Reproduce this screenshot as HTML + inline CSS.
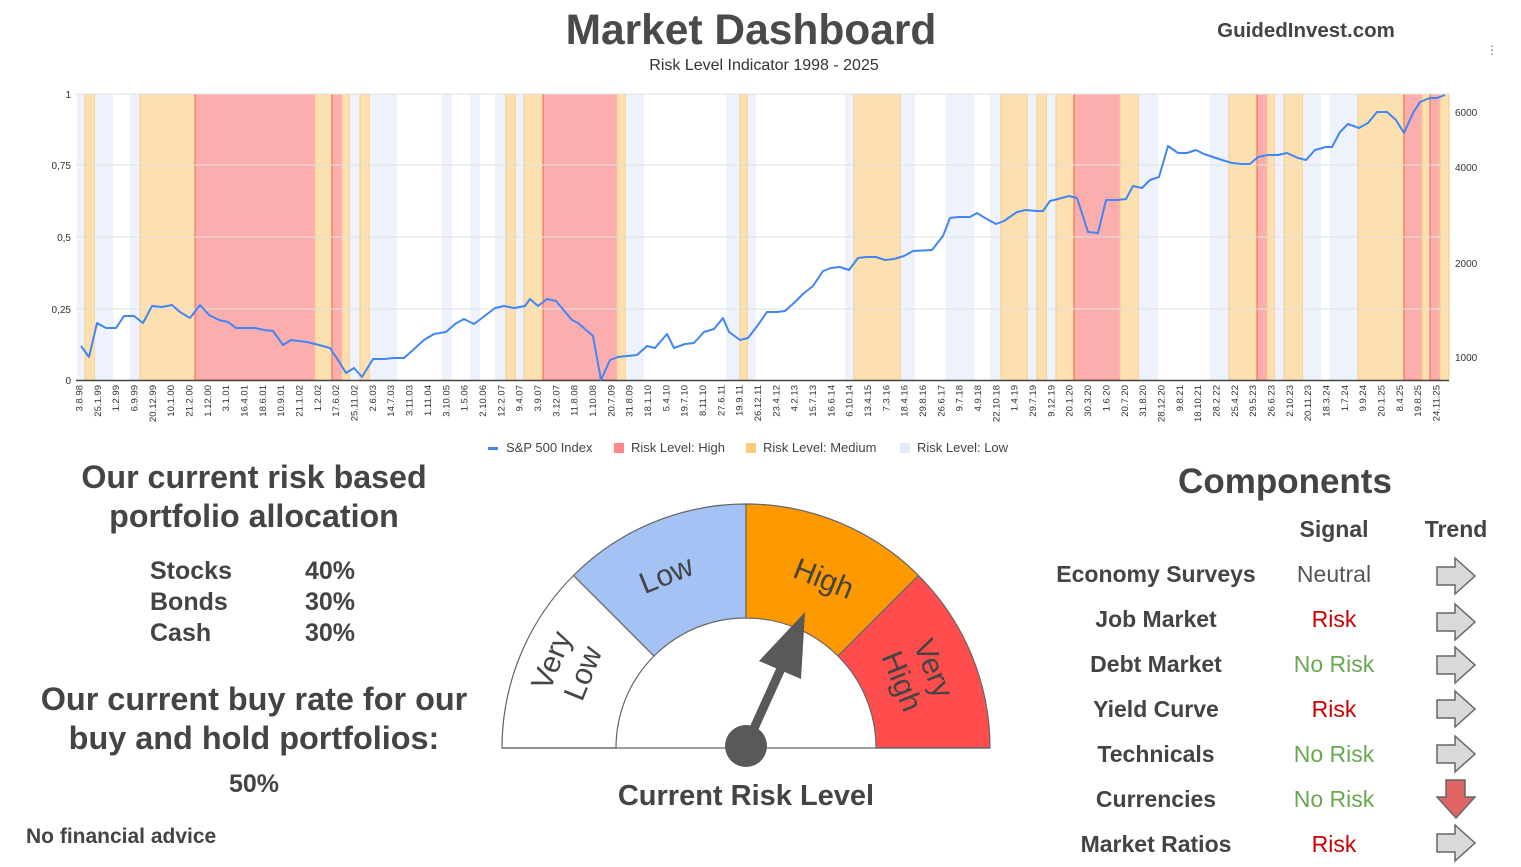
<!DOCTYPE html>
<html><head><meta charset="utf-8"><style>
html,body{margin:0;padding:0;background:#fff}
svg{display:block;font-family:"Liberation Sans",Arial,sans-serif}
</style></head><body>
<svg id="s" width="1521" height="867" viewBox="0 0 1521 867" xmlns="http://www.w3.org/2000/svg">
<g id="bands"></g>
<g stroke="#e0e0e0" stroke-width="1">
<line x1="76" x2="1449" y1="94" y2="94"/><line x1="76" x2="1449" y1="165" y2="165"/>
<line x1="76" x2="1449" y1="237" y2="237"/><line x1="76" x2="1449" y1="309" y2="309"/>
</g>
<line x1="76" x2="1449" y1="380.5" y2="380.5" stroke="#444" stroke-width="1.5"/>
<polyline id="line" fill="none" stroke="#4285f4" stroke-width="2" stroke-linejoin="round"/>
<g font-size="10" fill="#333" text-anchor="end">
<text x="71" y="98">1</text><text x="71" y="169">0,75</text><text x="71" y="241">0,5</text><text x="71" y="313">0,25</text><text x="71" y="384">0</text>
</g>
<g font-size="10" fill="#333">
<text x="1455" y="116">6000</text><text x="1455" y="171">4000</text><text x="1455" y="267">2000</text><text x="1455" y="361">1000</text>
</g>
<g id="ticks" font-size="9.5" fill="#333"></g>
<g font-size="13" fill="#444">
<rect x="488" y="447" width="10" height="3" fill="#4285f4"/><text x="506" y="452">S&amp;P 500 Index</text>
<rect x="614" y="443" width="10" height="10" fill="#f88"/><text x="631" y="452">Risk Level: High</text>
<rect x="746" y="443" width="10" height="10" fill="#fcc97a"/><text x="763" y="452">Risk Level: Medium</text>
<rect x="900" y="443" width="10" height="10" fill="#e3ebfb"/><text x="917" y="452">Risk Level: Low</text>
</g>
<text x="751" y="44" font-size="42.5" font-weight="bold" fill="#4a4a4a" text-anchor="middle">Market Dashboard</text>
<text x="764" y="70" font-size="16" fill="#333" text-anchor="middle">Risk Level Indicator 1998 - 2025</text>
<text x="1306" y="37" font-size="20.5" font-weight="bold" fill="#444" text-anchor="middle">GuidedInvest.com</text>
<text x="1486" y="54" font-size="12" fill="#666">⋮</text>

<g fill="#444" font-weight="bold" text-anchor="middle">
<text x="254" y="488" font-size="32.2">Our current risk based</text>
<text x="254" y="527" font-size="32.2">portfolio allocation</text>
<text x="254" y="710" font-size="32.4">Our current buy rate for our</text>
<text x="254" y="749" font-size="32.4">buy and hold portfolios:</text>
<text x="254" y="792" font-size="25">50%</text>
</g>
<g fill="#444" font-weight="bold" font-size="25">
<text x="150" y="579">Stocks</text><text x="305" y="579">40%</text>
<text x="150" y="610">Bonds</text><text x="305" y="610">30%</text>
<text x="150" y="641">Cash</text><text x="305" y="641">30%</text>
<text x="26" y="843" font-size="21">No financial advice</text>
</g>

<g stroke="#666" stroke-width="1.2">
<path d="M502,748 A244,244 0 0 1 573.5,575.5 L654,656 A130,130 0 0 0 616,748 Z" fill="#fff"/>
<path d="M573.5,575.5 A244,244 0 0 1 746,504 L746,618 A130,130 0 0 0 654,656 Z" fill="#a4c2f4"/>
<path d="M746,504 A244,244 0 0 1 918.5,575.5 L838,656 A130,130 0 0 0 746,618 Z" fill="#ff9900"/>
<path d="M918.5,575.5 A244,244 0 0 1 990,748 L876,748 A130,130 0 0 0 838,656 Z" fill="#ff4d4d"/>
<line x1="502" y1="748" x2="990" y2="748"/>
</g>
<g fill="#444" font-size="30" text-anchor="middle">
<text transform="translate(670,584) rotate(-22)">Low</text>
<text transform="translate(820,588) rotate(22)">High</text>
<text transform="translate(570,668) rotate(-68)"><tspan x="0" y="-10">Very</tspan><tspan x="0" y="24">Low</tspan></text>
<text transform="translate(915,676) rotate(68)"><tspan x="0" y="-10">Very</tspan><tspan x="0" y="24">High</tspan></text>
</g>
<g fill="#595959">
<line x1="746" y1="746" x2="784" y2="662" stroke="#595959" stroke-width="9"/>
<polygon points="805,612 801,679 759,661"/>
<circle cx="746" cy="746" r="21"/>
</g>
<text x="746" y="805" font-size="29" font-weight="bold" fill="#444" text-anchor="middle">Current Risk Level</text>

<g fill="#444" font-weight="bold" text-anchor="middle">
<text x="1285" y="493" font-size="35">Components</text>
<text x="1334" y="537" font-size="23">Signal</text>
<text x="1456" y="537" font-size="23">Trend</text>
<g font-size="23">
<text x="1156" y="582">Economy Surveys</text><text x="1156" y="627">Job Market</text>
<text x="1156" y="672">Debt Market</text><text x="1156" y="717">Yield Curve</text>
<text x="1156" y="762">Technicals</text><text x="1156" y="807">Currencies</text>
<text x="1156" y="852">Market Ratios</text>
</g>
</g>
<g font-size="23" text-anchor="middle">
<text x="1334" y="582" fill="#555">Neutral</text>
<text x="1334" y="627" fill="#cc0000">Risk</text>
<text x="1334" y="672" fill="#6aa84f">No Risk</text>
<text x="1334" y="717" fill="#cc0000">Risk</text>
<text x="1334" y="762" fill="#6aa84f">No Risk</text>
<text x="1334" y="807" fill="#6aa84f">No Risk</text>
<text x="1334" y="852" fill="#cc0000">Risk</text>
</g>
<g id="arrows" stroke="#666" stroke-width="1.5"></g>
</svg>
<script>
var NS="http://www.w3.org/2000/svg";
function el(p,t,a){var e=document.createElementNS(NS,t);for(var k in a)e.setAttribute(k,a[k]);p.appendChild(e);return e;}
var B=[["l",77,85],["m",85,95],["l",95,113],["l",130,140],["m",140,195],["h",195,315],["m",315,332],["h",332,342],["m",342,350],["l",350,360],["m",360,370],["l",370,397],["l",442,452],["l",470,480],["l",495,506],["m",506,516],["l",516,524],["m",524,543],["h",543,617],["m",617,626],["l",626,644],["l",726,740],["m",740,748],["l",748,756],["l",845,854],["m",854,901],["l",901,915],["l",946,974],["l",990,1001],["m",1001,1028],["l",1028,1037],["m",1037,1047],["l",1047,1056],["m",1056,1074],["h",1074,1120],["m",1120,1139],["l",1139,1158],["l",1210,1229],["m",1229,1257],["h",1257,1267],["m",1267,1275],["l",1275,1284],["m",1284,1303],["l",1303,1321],["l",1330,1358],["m",1358,1404],["h",1404,1422],["m",1422,1430],["h",1430,1440],["m",1440,1449]];
var g=document.getElementById("bands");
var C={l:["#edf2fc","none"],m:["#fde0b0","#f7c98a"],h:["#fcaeae","#f0623f"]};
B.forEach(function(b){el(g,"rect",{x:b[1],y:94,width:b[2]-b[1],height:286,fill:C[b[0]][0],stroke:C[b[0]][1],"stroke-width":1});});
var P=[81,346,89,357,97,323,106,328,116,328,124,316,134,316,143,323,152,306,162,307,172,305,180,312,190,318,200,305,209,315,219,320,228,322,236,328,255,328,264,330,273,331,283,345,291,340,307,342,319,345,330,348,338,360,346,373,354,368,362,377,373,359,385,359,393,358,404,358,413,350,424,340,434,334,446,332,455,324,464,319,474,324,486,315,495,308,504,306,514,308,525,306,530,299,538,306,547,299,556,301,572,320,578,323,593,336,601,380,610,360,618,357,627,356,637,355,647,346,655,348,667,334,674,348,685,344,694,343,704,332,714,329,723,318,729,332,740,340,748,338,758,325,767,312,777,312,785,311,795,302,803,294,813,286,823,271,831,268,840,267,849,270,858,258,866,257,876,257,885,260,894,259,904,256,913,251,932,250,943,236,950,218,958,217,970,217,977,213,985,218,996,224,1004,221,1017,212,1026,210,1036,211,1043,211,1050,201,1058,199,1069,196,1077,198,1088,232,1098,233,1106,200,1117,200,1126,199,1133,186,1142,188,1150,180,1159,177,1168,146,1178,153,1187,153,1196,150,1204,154,1213,157,1222,160,1232,163,1242,164,1250,164,1258,157,1268,155,1278,155,1287,153,1298,158,1306,160,1315,150,1326,147,1332,147,1340,132,1348,124,1359,128,1368,123,1377,112,1387,112,1396,120,1404,133,1413,113,1420,102,1430,98,1437,98,1445,95];
var s="";for(var i=0;i<P.length;i+=2)s+=P[i]+","+P[i+1]+" ";
document.getElementById("line").setAttribute("points",s);
var L="3.8.98 25.1.99 1.2.99 6.9.99 20.12.99 10.1.00 21.2.00 1.12.00 3.1.01 16.4.01 18.6.01 10.9.01 21.1.02 1.2.02 17.6.02 25.11.02 2.6.03 14.7.03 3.11.03 1.11.04 3.10.05 1.5.06 2.10.06 12.2.07 9.4.07 3.9.07 3.12.07 11.8.08 1.10.08 20.7.09 31.8.09 18.1.10 5.4.10 19.7.10 8.11.10 27.6.11 19.9.11 26.12.11 23.4.12 4.2.13 15.7.13 16.6.14 6.10.14 13.4.15 7.3.16 18.4.16 29.8.16 26.6.17 9.7.18 4.9.18 22.10.18 1.4.19 29.7.19 9.12.19 20.1.20 30.3.20 1.6.20 20.7.20 31.8.20 28.12.20 9.8.21 18.10.21 28.2.22 25.4.22 29.5.23 26.6.23 2.10.23 20.11.23 18.3.24 1.7.24 9.9.24 20.1.25 8.4.25 19.8.25 24.11.25".split(" ");
var t=document.getElementById("ticks");
L.forEach(function(l,i){var x=79+i*(1357/(L.length-1))+3.5;var e=el(t,"text",{transform:"translate("+x+",385) rotate(-90)","text-anchor":"end"});e.textContent=l;});
var A=document.getElementById("arrows");
[576,622,665,709,754,843].forEach(function(y){el(A,"polygon",{points:"1437,"+(y-9)+" 1455,"+(y-9)+" 1455,"+(y-18)+" 1475,"+y+" 1455,"+(y+18)+" 1455,"+(y+9)+" 1437,"+(y+9),fill:"#d9d9d9"});});
el(A,"polygon",{points:"1446,780 1465,780 1465,797 1475,797 1456,818 1437,797 1446,797",fill:"#e06666"});
</script>
</body></html>
